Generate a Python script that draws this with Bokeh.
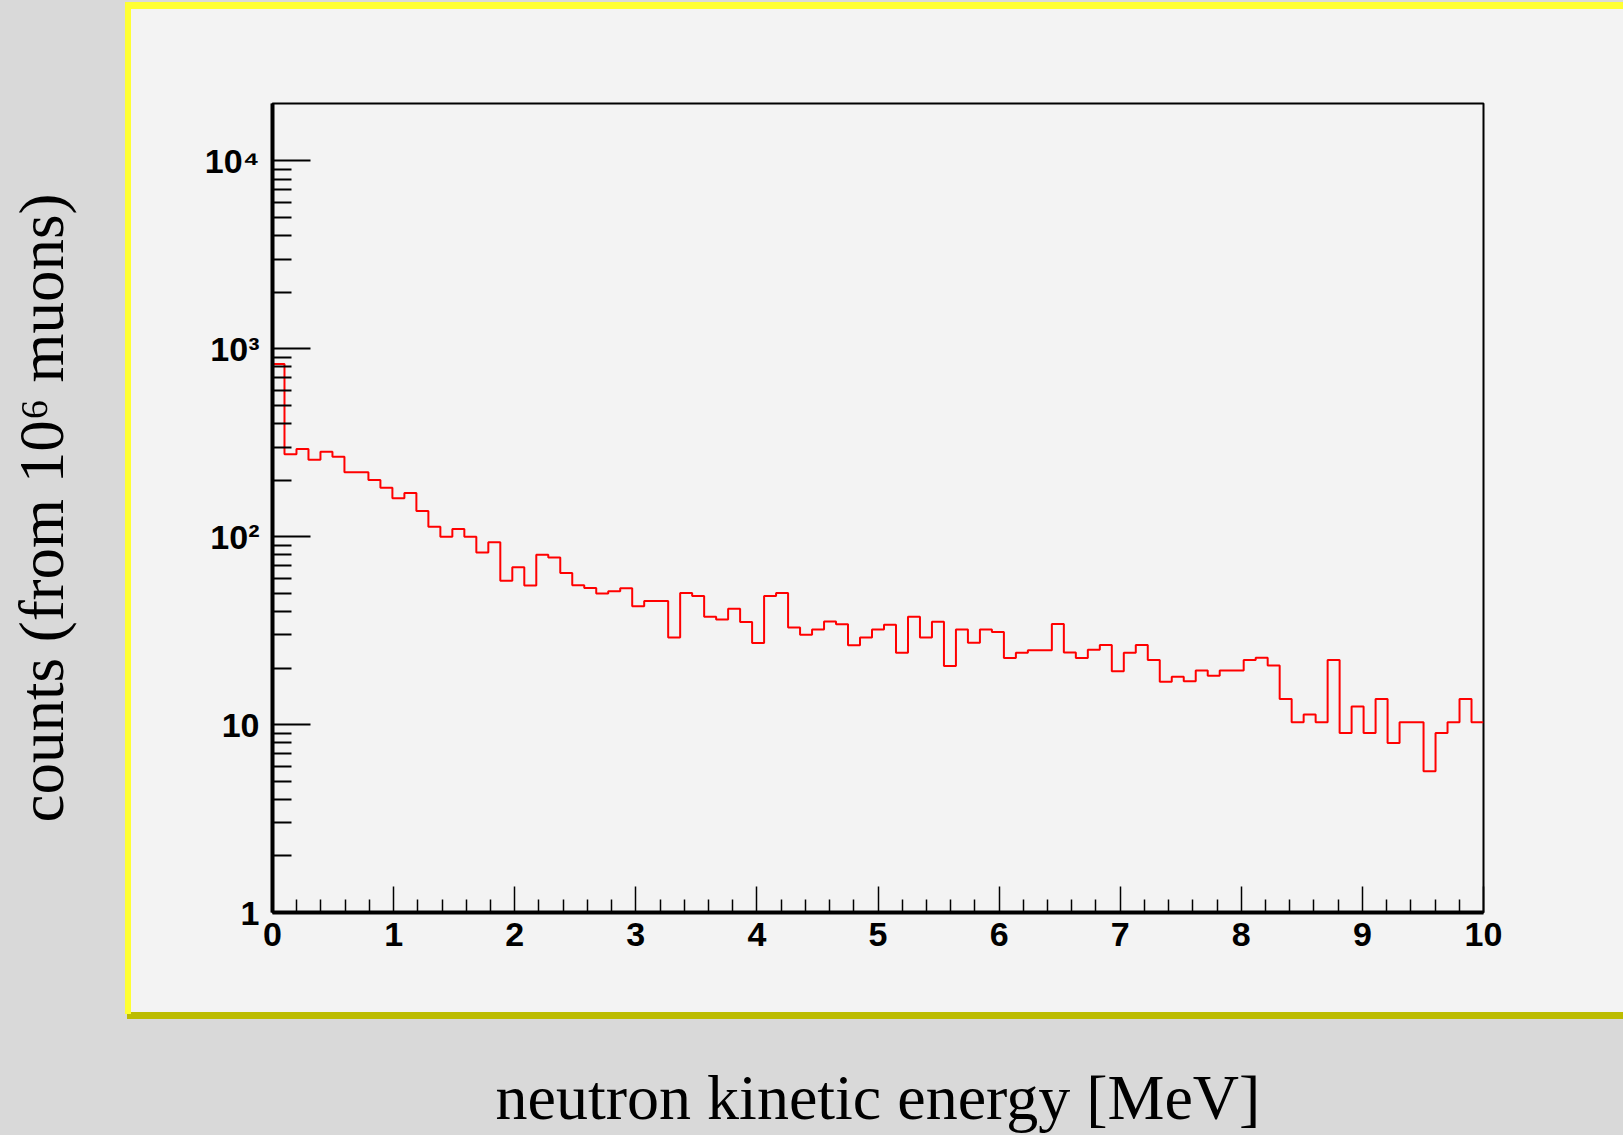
import numpy as np
from bokeh.plotting import figure
from bokeh.models import Range1d, FixedTicker
from bokeh.embed import file_html
from bokeh.resources import INLINE

# ---------------- data ----------------
x_min, x_max = 0.0, 10.0
y_min, y_max = 1.0, 2.02e4

counts = [829, 275, 293, 257, 283, 266, 220, 220, 200, 182,
          160, 171, 137, 113, 100, 110, 100, 82.5, 93.3, 58.3,
          68.7, 54.9, 80.2, 77.6, 64.1, 55.1, 53.3, 49.9, 51.2, 53.1,
          42.6, 45.5, 45.5, 29.1, 50.2, 48.4, 37.5, 36.2, 41.4, 35.2,
          27.2, 48.4, 50.2, 32.9, 30.1, 32.1, 35.4, 34.2, 26.4, 29.1,
          32.1, 34.0, 24.1, 37.5, 29.1, 35.3, 20.5, 32.1, 27.3, 32.1,
          31.1, 22.6, 24.1, 24.9, 24.9, 34.3, 24.2, 22.6, 25.0, 26.5,
          19.2, 24.1, 26.5, 22.1, 16.9, 18.0, 17.0, 19.4, 18.2, 19.4,
          19.4, 22.1, 22.7, 20.6, 13.7, 10.3, 11.3, 10.3, 22.1, 9.03,
          12.5, 9.03, 13.7, 7.99, 10.3, 10.3, 5.65, 9.03, 10.3, 13.7,
          10.3]

x_tick_values = [0, 1, 2, 3, 4, 5, 6, 7, 8, 9, 10]
x_tick_labels = ["0", "1", "2", "3", "4", "5", "6", "7", "8", "9", "10"]
y_tick_values = [1, 10, 100, 1000, 10000]
y_tick_labels = ["1", "10", "10\u00b2", "10\u00b3", "10\u2074"]

x_title = "neutron kinetic energy [MeV]"
y_title = "counts (from 10\u2076 muons)"

# ---------------- layout ----------------
W, H = 1623, 1135
FL, FR, FT, FB = 272, 1483, 103, 912   # frame edges in page pixels

# slide background: grey page, light panel with yellow bevelled border
page_styles = {
    "background-color": "#d9d9d9",
    "background-image": ("linear-gradient(#ffff33, #ffff33), "
                         "linear-gradient(#ffff33, #ffff33), "
                         "linear-gradient(#bcbc00, #bcbc00), "
                         "linear-gradient(#f3f3f3, #f3f3f3)"),
    "background-position": "125px 2px, 125px 2px, 127px 1012px, 127px 3px",
    "background-size": "1498px 7px, 6px 1012px, 1496px 7px, 1496px 1014px",
    "background-repeat": "no-repeat",
}

p = figure(width=W, height=H,
           x_range=Range1d(x_min, x_max), y_range=Range1d(y_min, y_max),
           y_axis_type="log", output_backend="svg", toolbar_location=None,
           min_border_left=FL, min_border_right=W - FR,
           min_border_top=FT, min_border_bottom=H - FB,
           styles=page_styles)
p.xgrid.visible = False
p.ygrid.visible = False
p.background_fill_color = "#f3f3f3"
p.border_fill_alpha = 0.0
p.outline_line_color = "black"
p.outline_line_width = 2

# ---------------- axes ----------------
xa = p.xaxis[0]
xa.ticker = FixedTicker(ticks=x_tick_values,
                        minor_ticks=[round(v, 1) for v in np.arange(0.2, 10.0, 0.2)
                                     if abs(v - round(v)) > 1e-6])
xa.major_label_overrides = dict(zip(x_tick_values, x_tick_labels))
xa.axis_line_width = 4
xa.axis_line_color = "black"
xa.major_tick_in = 26
xa.major_tick_out = 0
xa.minor_tick_in = 13
xa.minor_tick_out = 0
xa.major_tick_line_width = 1.5
xa.minor_tick_line_width = 1.5
xa.major_tick_line_color = "black"
xa.minor_tick_line_color = "black"
xa.major_label_text_font = "Liberation Sans"
xa.major_label_text_font_style = "bold"
xa.major_label_text_font_size = "34px"
xa.major_label_text_color = "black"
xa.major_label_standoff = 10
xa.axis_label = x_title
xa.axis_label_text_font = "Liberation Serif"
xa.axis_label_text_font_style = "normal"
xa.axis_label_text_font_size = "64px"
xa.axis_label_text_color = "black"
xa.axis_label_standoff = 113

ya = p.yaxis[0]
ya.ticker = FixedTicker(ticks=y_tick_values,
                        minor_ticks=[m * 10 ** e for e in range(0, 4) for m in range(2, 10)])
ya.major_label_overrides = dict(zip(y_tick_values, y_tick_labels))
ya.axis_line_width = 4
ya.axis_line_color = "black"
ya.major_tick_in = 38
ya.major_tick_out = 0
ya.minor_tick_in = 19
ya.minor_tick_out = 0
ya.major_tick_line_width = 2
ya.minor_tick_line_width = 2
ya.major_tick_line_color = "black"
ya.minor_tick_line_color = "black"
ya.major_label_text_font = "Liberation Sans"
ya.major_label_text_font_style = "bold"
ya.major_label_text_font_size = "34px"
ya.major_label_text_color = "black"
ya.major_label_standoff = 13
ya.axis_label = y_title
ya.axis_label_text_font = "Liberation Serif"
ya.axis_label_text_font_style = "normal"
ya.axis_label_text_font_size = "63px"
ya.axis_label_text_color = "black"
ya.axis_label_standoff = 125

# ---------------- histogram ----------------
edges = np.linspace(x_min, x_max, len(counts) + 1)
p.step(x=edges, y=list(counts) + [counts[-1]], mode="after",
       line_color="#ff0000", line_width=2)

open("out.html", "w").write(file_html(p, INLINE))
